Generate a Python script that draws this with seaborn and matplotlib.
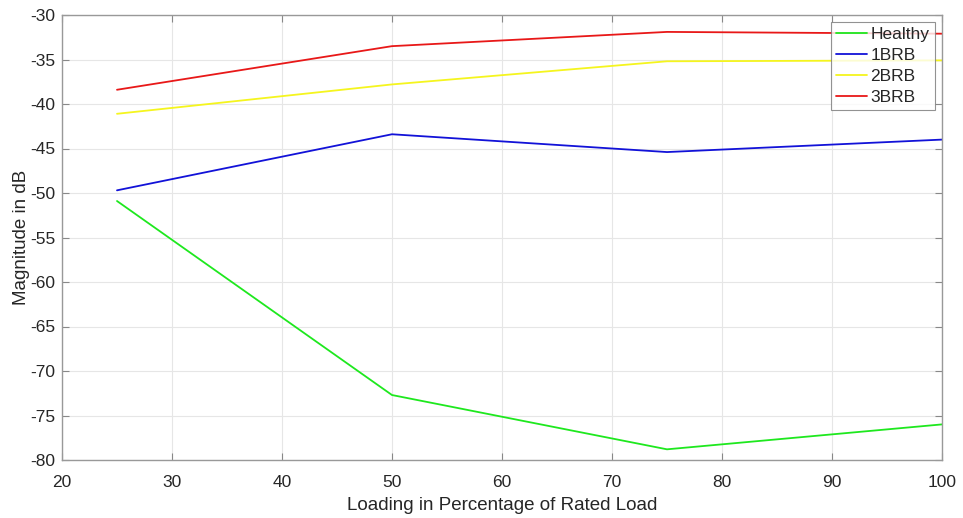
import numpy as np
import pandas as pd
import matplotlib
matplotlib.use("Agg")
import matplotlib.pyplot as plt
import seaborn as sns

loading = [25, 50, 75, 100]
healthy = [-50.9, -72.7, -78.8, -76.0]
brb1 = [-49.7, -43.4, -45.4, -44.0]
brb2 = [-41.1, -37.8, -35.2, -35.1]
brb3 = [-38.4, -33.5, -31.9, -32.1]
series_names = ["Healthy", "1BRB", "2BRB", "3BRB"]
colors = ["#1ee81e", "#1212d8", "#f5f51e", "#e81818"]

sns.set_style("white")
plt.rcParams["font.family"] = ["Liberation Sans", "DejaVu Sans"]
plt.rcParams["axes.unicode_minus"] = False

frames = []
for name, vals in zip(series_names, [healthy, brb1, brb2, brb3]):
    frames.append(pd.DataFrame({"Loading": loading, "Magnitude": vals, "Series": name}))
df = pd.concat(frames, ignore_index=True)

fig = plt.figure(figsize=(9.63, 5.18), dpi=100)
ax = fig.add_axes([62/963, (518-460)/518, 880/963, 445/518])
sns.lineplot(data=df, x="Loading", y="Magnitude", hue="Series", hue_order=series_names,
             palette=colors, ax=ax, linewidth=1.3, sort=False)

ax.set_xlim(20, 100)
ax.set_ylim(-80, -30)
ax.set_xticks(np.arange(20, 101, 10))
ax.set_yticks(np.arange(-80, -29, 5))
ax.grid(True, color="#e6e6e6", linewidth=0.8)
ax.tick_params(direction="in", length=5, color="#888888", labelsize=12.5, labelcolor="#262626",
               top=True, right=True, bottom=True, left=True)
ax.tick_params(axis="x", pad=11)
ax.tick_params(axis="y", pad=5)
for s in ax.spines.values():
    s.set_visible(True)
    s.set_color("#999999")
    s.set_linewidth(1.0)
ax.set_xlabel("Loading in Percentage of Rated Load", fontsize=13.5, color="#262626", labelpad=5)
ax.set_ylabel("Magnitude in dB", fontsize=13.5, color="#262626", labelpad=0)

leg = ax.legend(loc="upper right", bbox_to_anchor=(0.9915, 0.985), fontsize=12.5, frameon=True,
                fancybox=False, edgecolor="#777777", handlelength=1.75, handletextpad=0.2,
                borderpad=0.3, labelspacing=0.33, borderaxespad=0)
leg.get_frame().set_linewidth(0.8)

fig.savefig("out.png", dpi=100)
